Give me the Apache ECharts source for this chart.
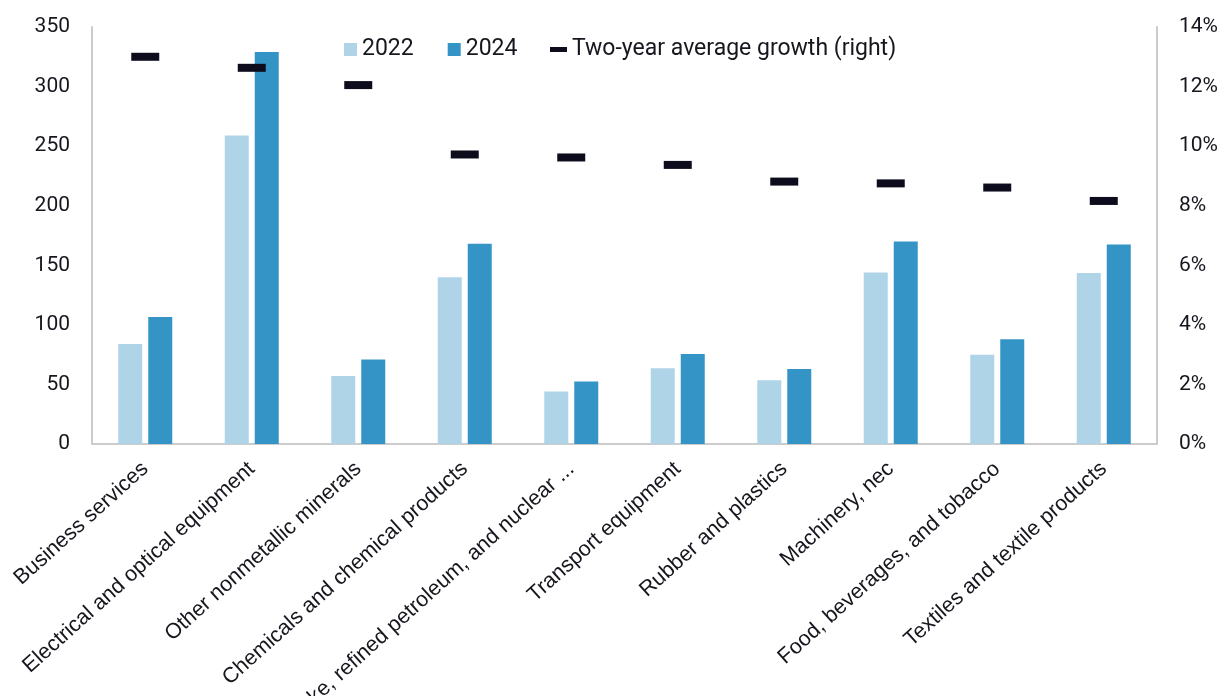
<!DOCTYPE html>
<html>
<head>
<meta charset="utf-8">
<script src="https://cdn.jsdelivr.net/npm/echarts@6/dist/echarts.min.js"></script>
<style>
  html, body { margin: 0; padding: 0; background: #fff; }
  #chart { width: 1227px; height: 696px; }
</style>
</head>
<body>
<div id="chart"></div>
<script>
// Sector categories along the x axis
const categories = [
  'Business services',
  'Electrical and optical equipment',
  'Other nonmetallic minerals',
  'Chemicals and chemical products',
  'Coke, refined petroleum, and nuclear ...',
  'Transport equipment',
  'Rubber and plastics',
  'Machinery, nec',
  'Food, beverages, and tobacco',
  'Textiles and textile products'
];

// Levels (left axis)
const values2022 = [84, 259, 57, 140, 44, 63.5, 53.5, 144, 75, 143.5];
const values2024 = [106.5, 329, 71, 168, 52.5, 75.5, 63, 170, 88, 167.5];

// Two-year average growth, percent (right axis)
const growth = [13.0, 12.63, 12.05, 9.72, 9.62, 9.37, 8.81, 8.75, 8.61, 8.16];

// Axis ticks
const leftTicks = { min: 0, max: 350, interval: 50 };
const rightTicks = { min: 0, max: 14, interval: 2 };

const chart = echarts.init(document.getElementById('chart'));

const textColor = '#16161e';
const axisLine = { show: true, lineStyle: { color: '#cccccc', width: 2 } };
const tickFont = { fontFamily: 'Roboto', fontSize: 21, color: textColor };

chart.setOption({
  animation: false,
  backgroundColor: '#ffffff',
  grid: {
    left: 92, right: 70, top: 27, bottom: 252,
    containLabel: false, outerBoundsMode: 'none'
  },
  legend: [
    {
      data: ['2022', '2024'],
      left: 339, top: 33,
      icon: 'rect', itemWidth: 13, itemHeight: 13, itemGap: 34,
      textStyle: { fontFamily: 'Roboto', fontSize: 23, color: textColor }
    },
    {
      data: ['Two-year average growth (right)'],
      left: 545, top: 33,
      icon: 'rect', itemWidth: 17, itemHeight: 5, itemGap: 10,
      textStyle: { fontFamily: 'Roboto', fontSize: 23, color: textColor }
    }
  ],
  xAxis: {
    type: 'category',
    data: categories,
    axisLine: axisLine,
    axisTick: { show: false },
    axisLabel: {
      rotate: 42, interval: 0, margin: 22,
      fontFamily: 'Liberation Sans', fontSize: 21.5, color: textColor
    }
  },
  yAxis: [
    {
      type: 'value', position: 'left',
      min: leftTicks.min, max: leftTicks.max, interval: leftTicks.interval,
      axisLine: axisLine, axisTick: { show: false }, splitLine: { show: false },
      axisLabel: Object.assign({ margin: 22 }, tickFont)
    },
    {
      type: 'value', position: 'right',
      min: rightTicks.min, max: rightTicks.max, interval: rightTicks.interval,
      axisLine: axisLine, axisTick: { show: false }, splitLine: { show: false },
      axisLabel: Object.assign({ margin: 22, formatter: '{value}%' }, tickFont)
    }
  ],
  series: [
    {
      name: '2022', type: 'bar', data: values2022,
      barWidth: 24, barGap: '25%',
      itemStyle: { color: '#afd4e8' }
    },
    {
      name: '2024', type: 'bar', data: values2024,
      barWidth: 24,
      itemStyle: { color: '#3494c5' }
    },
    {
      name: 'Two-year average growth (right)', type: 'scatter',
      yAxisIndex: 1, data: growth,
      symbol: 'rect', symbolSize: [28, 8],
      itemStyle: { color: '#0c0c1c', opacity: 1 }, z: 5
    }
  ]
});
</script>
</body>
</html>
